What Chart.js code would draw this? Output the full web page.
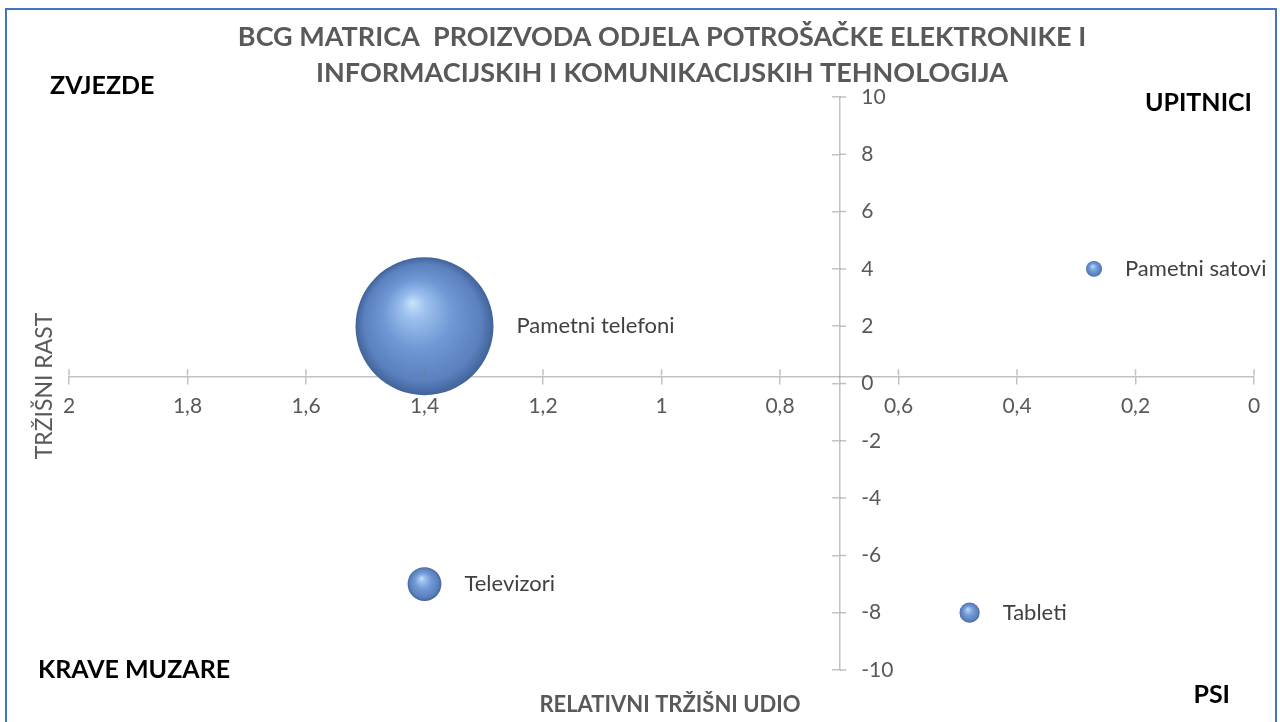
<!DOCTYPE html>
<html lang="hr">
<head>
    <meta charset="UTF-8">
    <title>BCG matrica</title>
    <script src="https://cdn.jsdelivr.net/npm/chart.js"></script>
    <style>
        body { margin: 0; background: #fff; }
        #wrap { position: relative; width: 1280px; height: 722px; }
        #frame { position: absolute; left: 5px; top: 8px; width: 1268px; height: 730px;
                 border: 2px solid #4472c4; pointer-events: none; }
    </style>
</head>
<body>
<div id="wrap">
    <canvas id="bcg"></canvas>
    <div id="frame"></div>
</div>
<script>
    // podaci
    const products = ['Pametni telefoni', 'Televizori', 'Tableti', 'Pametni satovi'];
    const relShare = [1.4, 1.4, 0.48, 0.27];   // relativni tržišni udio (x)
    const growth = [2, -7, -8, 4];             // tržišni rast (y)
    const bubbleSize = [75, 4.5, 1.6, 1];      // veličina mjehurića (površina)

    const X_AXIS_AT = 0.25;  // horizontalna os siječe y ovdje
    const Y_AXIS_AT = 0.7;   // vertikalna os siječe x ovdje
    const R_MAX = 69;
    const FONT = 'Lato, "Liberation Sans", sans-serif';
    const GREY = '#595959';
    const AXIS = 'rgba(120,120,120,0.45)';

    const maxSize = Math.max(...bubbleSize);
    const points = products.map((p, i) => ({
        x: relShare[i],
        y: growth[i],
        r: R_MAX * Math.sqrt(bubbleSize[i] / maxSize)
    }));

    const fmt = v => String(+Number(v).toFixed(1)).replace('.', ',');

    // 3D kugla
    function sphereFill(c) {
        const chart = c.chart;
        const raw = c.raw;
        if (!raw || !chart.scales.x) return '#5b86c6';
        const cx = chart.scales.x.getPixelForValue(raw.x);
        const cy = chart.scales.y.getPixelForValue(raw.y);
        const r = raw.r;
        if (!isFinite(cx) || !isFinite(cy)) return '#5b86c6';
        const g = chart.ctx.createRadialGradient(cx - 0.18 * r, cy - 0.35 * r, 0, cx, cy, r);
        g.addColorStop(0, '#c8e2fc');
        g.addColorStop(0.18, '#9cc0ee');
        g.addColorStop(0.5, '#6f98d5');
        g.addColorStop(0.85, '#5a80bd');
        g.addColorStop(1, '#42639a');
        return g;
    }

    const crossTicks = {
        id: 'crossTicks',
        beforeDraw(chart) {
            // y oznake lijevo poravnate desno od osi
            const ys = chart.scales.y;
            const axisX = chart.scales.x.getPixelForValue(Y_AXIS_AT);
            ys.getLabelItems(chart.chartArea).forEach(item => {
                item.options.textAlign = 'left';
                item.options.translation = [axisX + 22, item.options.translation[1]];
            });
        },
        afterDraw(chart) {
            const {ctx, scales: {x, y}} = chart;
            const ax = x.getPixelForValue(Y_AXIS_AT);
            const ay = y.getPixelForValue(X_AXIS_AT);
            ctx.save();
            ctx.strokeStyle = AXIS;
            ctx.lineWidth = 1.5;
            ctx.beginPath();
            x.ticks.forEach(t => {
                const px = x.getPixelForValue(t.value);
                ctx.moveTo(px, ay - 0.75);
                ctx.lineTo(px, ay - 7);
            });
            y.ticks.forEach(t => {
                const py = y.getPixelForValue(t.value);
                ctx.moveTo(ax + 0.75, py);
                ctx.lineTo(ax + 7, py);
            });
            ctx.stroke();
            ctx.restore();
        }
    };

    const bubbleLabels = {
        id: 'bubbleLabels',
        afterDatasetsDraw(chart) {
            const ctx = chart.ctx;
            const meta = chart.getDatasetMeta(0);
            ctx.save();
            ctx.font = '22px ' + FONT;
            ctx.fillStyle = '#404040';
            ctx.textBaseline = 'middle';
            meta.data.forEach((pt, i) => {
                ctx.fillText(products[i], pt.x + pt.options.radius + 23, pt.y);
            });
            ctx.restore();
        }
    };

    const texts = {
        id: 'texts',
        afterDraw(chart) {
            const ctx = chart.ctx;
            ctx.save();
            ctx.textBaseline = 'middle';
            // naslov
            ctx.fillStyle = GREY;
            ctx.textAlign = 'center';
            ctx.font = 'bold 27px ' + FONT;
            ctx.fillText('BCG MATRICA  PROIZVODA ODJELA POTROŠAČKE ELEKTRONIKE I', 662, 37);
            ctx.fillText('INFORMACIJSKIH I KOMUNIKACIJSKIH TEHNOLOGIJA', 662, 73);
            // naziv osi
            ctx.font = 'bold 22px ' + FONT;
            ctx.fillText('RELATIVNI TRŽIŠNI UDIO', 670, 705);
            ctx.save();
            ctx.translate(45, 386);
            ctx.rotate(-Math.PI / 2);
            ctx.font = '23px ' + FONT;
            ctx.fillText('TRŽIŠNI RAST', 0, 0);
            ctx.restore();
            // kvadranti
            ctx.fillStyle = '#000';
            ctx.font = 'bold 25px ' + FONT;
            ctx.textAlign = 'left';
            ctx.fillText('ZVJEZDE', 50, 86);
            ctx.fillText('KRAVE MUZARE', 38, 670);
            ctx.textAlign = 'right';
            ctx.fillText('UPITNICI', 1252, 103);
            ctx.fillText('PSI', 1230, 695);
            ctx.restore();
        }
    };

    new Chart(document.getElementById('bcg'), {
        type: 'bubble',
        data: {
            datasets: [{
                label: 'Proizvodi',
                data: points,
                backgroundColor: sphereFill,
                borderWidth: 0,
                clip: false
            }]
        },
        options: {
            responsive: true,
            maintainAspectRatio: false,
            animation: false,
            events: [],
            layout: {autoPadding: false, padding: {left: 69, right: 26, top: 97, bottom: 52}},
            plugins: {legend: {display: false}, tooltip: {enabled: false}},
            scales: {
                x: {
                    type: 'linear',
                    reverse: true,
                    min: 0,
                    max: 2,
                    z: 1,
                    position: {y: X_AXIS_AT},
                    grid: {drawOnChartArea: false, tickLength: 7, color: AXIS, lineWidth: 1.5},
                    border: {color: AXIS, width: 1.5},
                    ticks: {stepSize: 0.2, autoSkip: false, maxRotation: 0, padding: 10,
                            color: GREY, font: {family: FONT, size: 21}, callback: fmt}
                },
                y: {
                    type: 'linear',
                    min: -10,
                    max: 10,
                    z: 1,
                    position: {x: Y_AXIS_AT},
                    grid: {drawOnChartArea: false, tickLength: 7, color: AXIS, lineWidth: 1.5},
                    border: {color: AXIS, width: 1.5},
                    ticks: {stepSize: 2, color: GREY, font: {family: FONT, size: 21}, callback: fmt}
                }
            }
        },
        plugins: [crossTicks, bubbleLabels, texts]
    });
</script>
</body>
</html>
